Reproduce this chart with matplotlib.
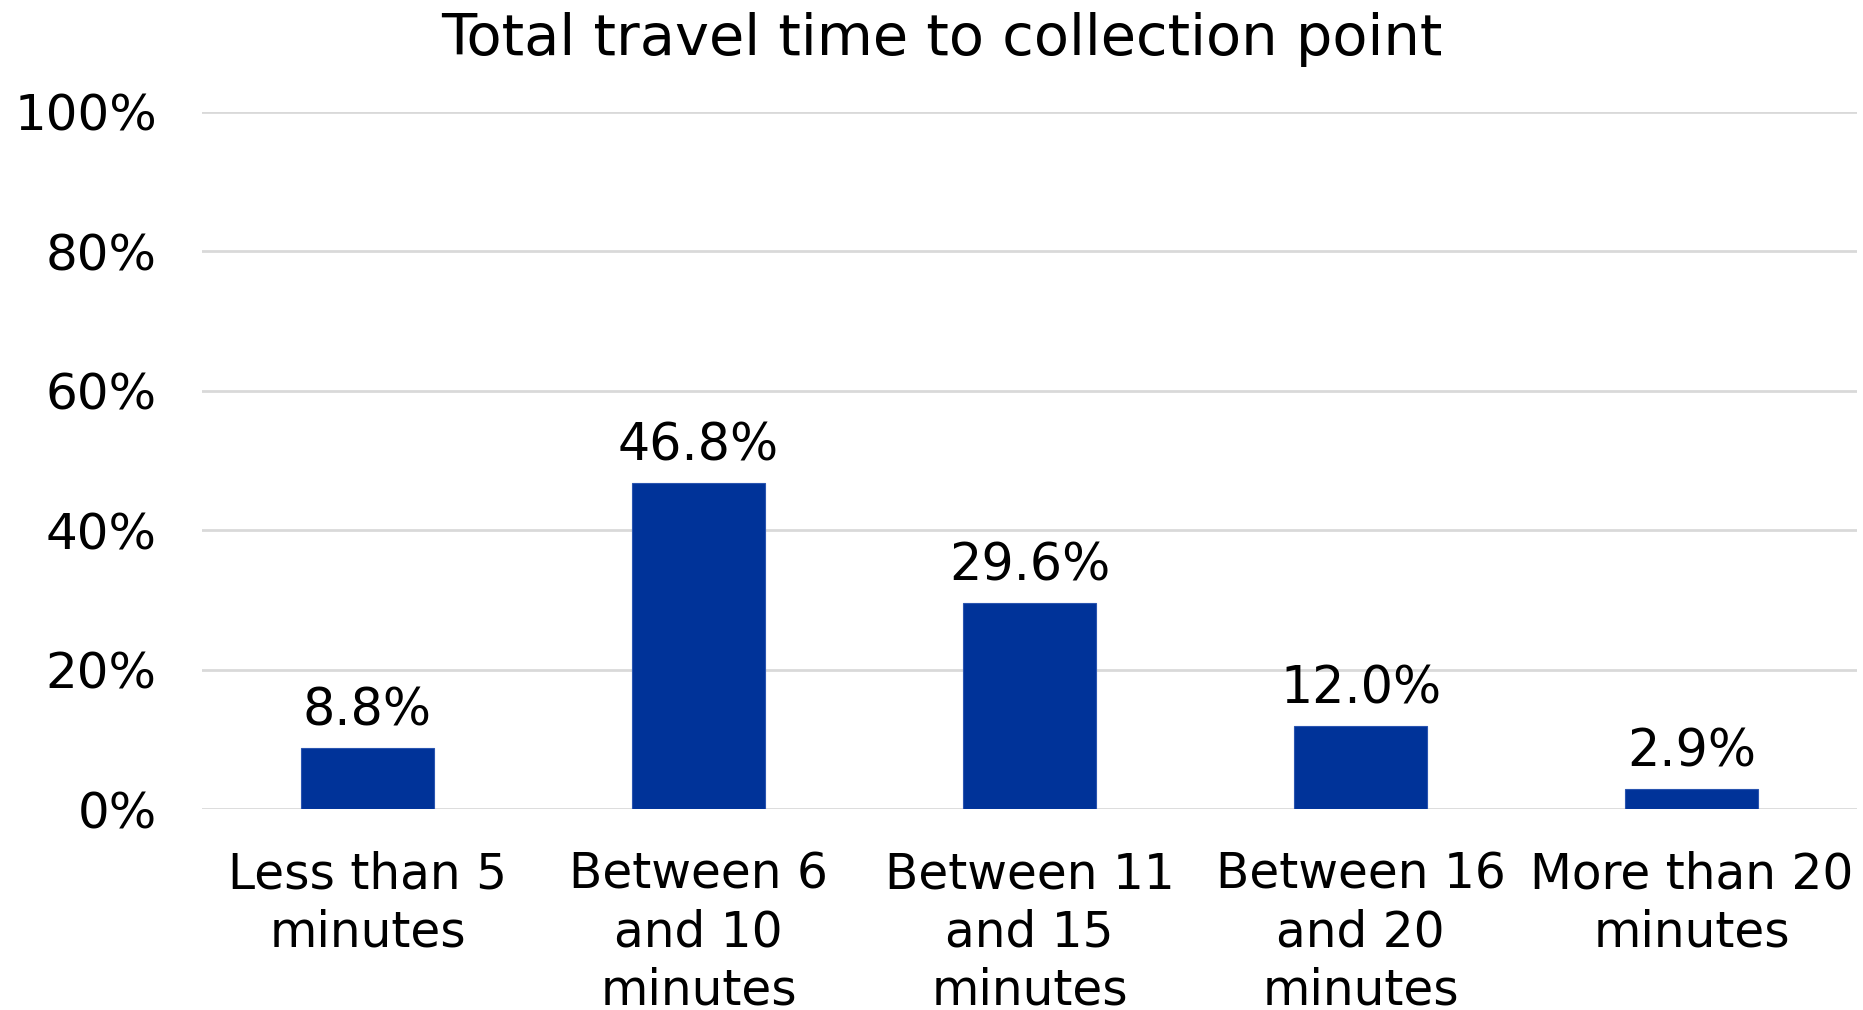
import matplotlib
matplotlib.use("Agg")
import matplotlib.pyplot as plt
from matplotlib.ticker import FuncFormatter

# Data
categories = [
    "Less than 5\nminutes",
    "Between 6\nand 10\nminutes",
    "Between 11\nand 15\nminutes",
    "Between 16\nand 20\nminutes",
    "More than 20\nminutes",
]
shares = [8.8, 46.8, 29.6, 12.0, 2.9]
y_ticks = [0, 20, 40, 60, 80, 100]
title = "Total travel time to collection point"

bar_color = "#003399"
grid_color = "#d9d9d9"

plt.rcParams["font.family"] = ["DejaVu Sans"]

W, H = 1863, 1010
fig = plt.figure(figsize=(W / 100, H / 100), dpi=100)
ax = fig.add_axes([202 / W, 1 - 809.3 / H, (1857 - 202) / W, (809.3 - 111.8) / H])

x = range(len(categories))
ax.bar(x, shares, width=0.4, color=bar_color, edgecolor="#2a55b0",
       linewidth=0.8, zorder=3)

for xi, v in zip(x, shares):
    ax.annotate(f"{v:.1f}%", xy=(xi, v), xytext=(0, 8), textcoords="offset points",
                ha="center", va="bottom", fontsize=36.5, color="black", zorder=4)

ax.set_xlim(-0.5, len(categories) - 0.5)
ax.set_ylim(0, 100)
ax.set_yticks(y_ticks)
ax.yaxis.set_major_formatter(FuncFormatter(lambda v, _: f"{v:.0f}%"))
ax.set_xticks(list(x))
ax.set_xticklabels(categories, fontsize=35, linespacing=1.26)

ax.tick_params(axis="y", length=0, pad=32.5, labelsize=36)
ax.tick_params(axis="x", length=0, pad=30)

ax.grid(axis="y", color=grid_color, linewidth=2, zorder=0)
ax.set_axisbelow(True)
for s in ax.spines.values():
    s.set_visible(False)

fig.text(942 / W, 1 - 55 / H, title, ha="center", va="baseline", fontsize=41.4)

fig.savefig("out.png", dpi=100, facecolor="white")
